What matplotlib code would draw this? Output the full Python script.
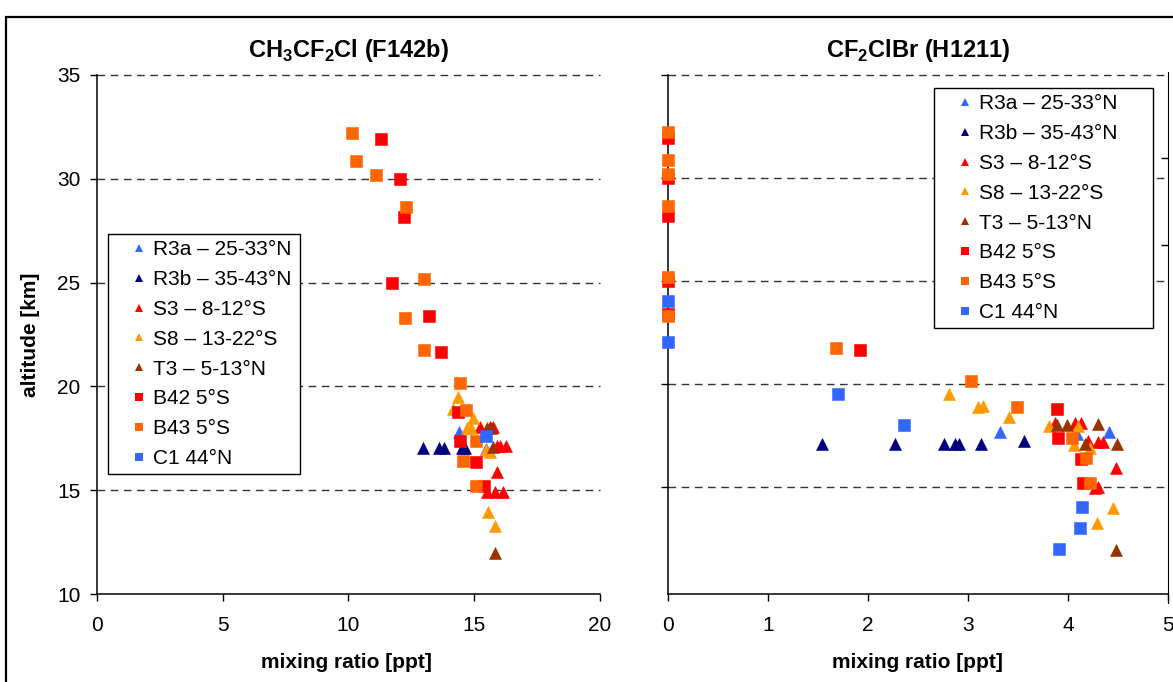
import matplotlib
matplotlib.use("Agg")
import matplotlib.pyplot as plt
from matplotlib.lines import Line2D
from matplotlib.patches import Rectangle

plt.rcParams["font.family"] = ["Liberation Sans", "DejaVu Sans"]
plt.rcParams["mathtext.fontset"] = "custom"
plt.rcParams["mathtext.rm"] = "Liberation Sans"
plt.rcParams["mathtext.bf"] = "Liberation Sans:bold"

# ---------------- series definitions ----------------
labels = ["R3a – 25-33°N", "R3b – 35-43°N", "S3 – 8-12°S", "S8 – 13-22°S",
          "T3 – 5-13°N", "B42 5°S", "B43 5°S", "C1 44°N"]
colors = ["#3366FF", "#000080", "#FF0000", "#FF9900",
          "#993300", "#FF0000", "#FF6600", "#3366FF"]
markers = ["^", "^", "^", "^", "^", "s", "s", "s"]

# balloon profile altitudes [km]
b42_alt = [31.92, 29.99, 28.16, 24.98, 23.39, 21.66, 18.77, 17.37, 16.36, 15.20]
b43_alt = [32.21, 30.86, 30.18, 28.64, 25.17, 23.29, 21.75, 20.16, 18.86, 17.37, 16.41, 15.20]

# ---------------- CH3CF2Cl (F142b) ----------------
f142b_r3a_x = [14.40, 15.45]
f142b_r3a_alt = [17.80, 17.00]
f142b_r3b_x = [12.96, 13.60, 13.80, 14.50, 14.65]
f142b_r3b_alt = [17.05, 17.05, 17.05, 17.05, 17.05]
f142b_s3_x = [15.23, 15.63, 15.75, 15.89, 16.02, 16.26, 15.89, 15.50, 15.83, 16.14]
f142b_s3_alt = [18.06, 18.06, 18.06, 17.12, 17.12, 17.12, 15.89, 14.90, 14.93, 14.93]
f142b_s8_x = [14.37, 14.17, 14.96, 14.70, 14.86, 15.47, 15.63, 15.55, 15.83]
f142b_s8_alt = [19.51, 18.90, 18.46, 17.98, 17.98, 16.94, 16.86, 13.95, 13.28]
f142b_t3_x = [15.51, 15.65, 15.75, 15.83]
f142b_t3_alt = [18.00, 18.00, 17.08, 11.97]
f142b_b42_x = [11.29, 12.05, 12.21, 11.73, 13.20, 13.68, 14.35, 14.43, 15.07, 15.39]
f142b_b43_x = [10.14, 10.30, 11.09, 12.29, 13.00, 12.25, 13.00, 14.43, 14.67, 15.07, 14.55, 15.07]
f142b_c1_x = [15.45]
f142b_c1_alt = [17.60]

# ---------------- CF2ClBr (H1211) ----------------
h1211_r3a_x = [3.32, 4.09, 4.41]
h1211_r3a_alt = [17.68, 17.57, 17.68]
h1211_r3b_x = [1.54, 2.27, 2.76, 2.87, 2.91, 3.13, 3.56]
h1211_r3b_alt = [17.10, 17.10, 17.10, 17.10, 17.10, 17.10, 17.25]
h1211_s3_x = [3.87, 4.07, 4.13, 4.20, 4.30, 4.35, 4.48, 4.30, 4.27]
h1211_s3_alt = [18.10, 18.10, 18.10, 17.25, 17.20, 17.20, 15.90, 14.98, 14.93]
h1211_s8_x = [2.81, 3.10, 3.15, 3.41, 3.81, 4.10, 4.06, 4.22, 4.45, 4.29]
h1211_s8_alt = [19.50, 18.90, 18.95, 18.41, 17.98, 17.98, 17.04, 16.88, 14.00, 13.27]
h1211_t3_x = [3.89, 3.99, 4.30, 4.17, 4.49, 4.48]
h1211_t3_alt = [18.01, 18.01, 18.04, 17.09, 17.09, 11.94]
h1211_b42_x = [0.0, 0.0, 0.0, 0.0, 0.0, 1.92, 3.89, 3.90, 4.13, 4.15]
h1211_b43_x = [0.0, 0.0, 0.0, 0.0, 0.0, 0.0, 1.68, 3.03, 3.49, 4.04, 4.18, 4.22]
h1211_c1_x = [0.0, 0.0, 1.70, 2.36, 4.14, 4.12, 3.91]
h1211_c1_alt = [24.03, 22.04, 19.51, 18.01, 14.03, 13.00, 11.99]

f142b_series = [(f142b_r3a_x, f142b_r3a_alt), (f142b_r3b_x, f142b_r3b_alt),
                (f142b_s3_x, f142b_s3_alt), (f142b_s8_x, f142b_s8_alt),
                (f142b_t3_x, f142b_t3_alt), (f142b_b42_x, b42_alt),
                (f142b_b43_x, b43_alt), (f142b_c1_x, f142b_c1_alt)]
h1211_series = [(h1211_r3a_x, h1211_r3a_alt), (h1211_r3b_x, h1211_r3b_alt),
                (h1211_s3_x, h1211_s3_alt), (h1211_s8_x, h1211_s8_alt),
                (h1211_t3_x, h1211_t3_alt), (h1211_b42_x, b42_alt),
                (h1211_b43_x, b43_alt), (h1211_c1_x, h1211_c1_alt)]

# ---------------- figure layout ----------------
W, H = 1173, 682
fig = plt.figure(figsize=(W / 100, H / 100), dpi=100)


def px_box(left, top, right, bottom):
    return [left / W, 1 - bottom / H, (right - left) / W, (bottom - top) / H]


ax1 = fig.add_axes(px_box(97, 75, 600, 594))
ax2 = fig.add_axes(px_box(668, 75, 1168, 594))

FS = 15
GRID_KW = dict(color="#333333", lw=1.0, linestyle=(0, (5.5, 4)), zorder=1)


def style_axes(ax, xlim, ylim, xticks, yticks, show_ylabels):
    ax.set_xlim(*xlim)
    ax.set_ylim(*ylim)
    ax.set_xticks(xticks)
    ax.set_yticks(yticks)
    if not show_ylabels:
        ax.set_yticklabels([])
    for side in ("top", "right"):
        ax.spines[side].set_visible(False)
    for side in ("left", "bottom"):
        ax.spines[side].set_linewidth(1.1)
        ax.spines[side].set_zorder(2)
    ax.tick_params(direction="out", length=5, width=1.0, labelsize=FS, pad=7)
    ax.tick_params(axis="x", pad=11)
    for v in yticks:
        if v > ylim[0]:
            ax.axhline(v, clip_on=False, **GRID_KW)


style_axes(ax1, (0, 20), (10, 35), [0, 5, 10, 15, 20], [10, 15, 20, 25, 30, 35], True)
style_axes(ax2, (0, 5), (9.8, 35), [0, 1, 2, 3, 4, 5], [15, 20, 25, 30, 35], False)

for ax, series in ((ax1, f142b_series), (ax2, h1211_series)):
    for (xs, ys), c, m in zip(series, colors, markers):
        ax.plot(xs, ys, ls="none", marker=m, ms=8.0, mfc=c, mec=c, mew=0.4,
                clip_on=False, zorder=3)

ax1.set_title(r"CH$_\mathbf{3}$CF$_\mathbf{2}$Cl (F142b)", fontsize=17,
              fontweight="bold", pad=13)
ax2.set_title(r"CF$_\mathbf{2}$ClBr (H1211)", fontsize=17, fontweight="bold", pad=13)

fig.text(30 / W, 1 - 335 / H, "altitude [km]", rotation=90, ha="center",
         va="center", fontsize=FS, fontweight="bold")
fig.text(346 / W, 1 - 663 / H, "mixing ratio [ppt]", ha="center", va="center",
         fontsize=FS, fontweight="bold")
fig.text(917 / W, 1 - 663 / H, "mixing ratio [ppt]", ha="center", va="center",
         fontsize=FS, fontweight="bold")

handles = [Line2D([], [], ls="none", marker=m, ms=5.4, mfc=c, mec=c, mew=0)
           for c, m in zip(colors, markers)]
LEG_KW = dict(loc="upper left", borderaxespad=0, fontsize=FS, frameon=True,
              fancybox=False, framealpha=1, edgecolor="black", borderpad=0.3,
              labelspacing=0.52, handlelength=2.4, handletextpad=-0.55,
              numpoints=1, mode="expand")
leg1 = ax1.legend(handles, labels,
                  bbox_to_anchor=((108 - 97) / 503, (594 - 234) / 519, 192 / 503, 0.0),
                  **LEG_KW)
leg2 = ax2.legend(handles, labels,
                  bbox_to_anchor=((934 - 668) / 500, (594 - 88) / 519, 219 / 500, 0.0),
                  **LEG_KW)
for leg in (leg1, leg2):
    leg.get_frame().set_linewidth(1.0)
    leg.set_zorder(5)

# spine of the neighbouring panel at the right edge
ax3 = fig.add_axes(px_box(1168, 72, 1173, 603))
for side in ("top", "right", "bottom"):
    ax3.spines[side].set_visible(False)
ax3.set_xticks([])
ax3.set_ylim(0, 1)
ax3.set_yticks([(603 - 158) / 531, (603 - 245) / 531])
ax3.set_yticklabels([])
ax3.tick_params(direction="out", length=5, width=1.0)
ax3.patch.set_alpha(0)

# outer frame
fig.add_artist(Rectangle((6 / W, -0.5), 2.0, (1 - 17 / H) + 0.5,
                         transform=fig.transFigure, fill=False, lw=1.6,
                         ec="black", zorder=10))

fig.savefig("out.png", dpi=100)
